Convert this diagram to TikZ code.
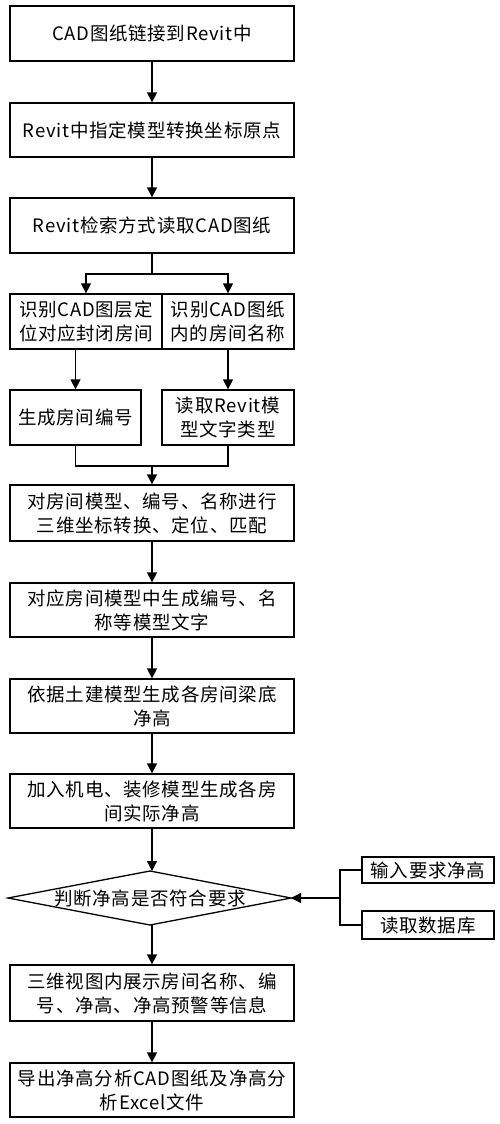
\documentclass[tikz,border=0pt]{standalone}
\usepackage{fontspec}
\setmainfont[LetterSpace=4]{Noto Sans CJK SC}
\usetikzlibrary{arrows.meta}
\begin{document}
\begin{tikzpicture}[x=1pt,y=-1pt,
  font=\fontsize{18.5}{24}\selectfont,
  box/.style={draw,line width=1.3pt,inner sep=0pt,align=center},
  conn/.style={line width=1.3pt},
  arr/.style={conn,-{Triangle[length=10pt,width=10pt]}}]
\fill[white] (0,0) rectangle (500,1124);
\useasboundingbox (0,0) rectangle (500,1124);
\node[box,minimum width=284pt,minimum height=55pt] (b1) at (152,33.5) {CAD图纸链接到Revit中};
\node[box,minimum width=284pt,minimum height=54pt] (b2) at (152,130) {Revit中指定模型转换坐标原点};
\node[box,minimum width=284pt,minimum height=55pt] (b3) at (152,225.5) {Revit检索方式读取CAD图纸};
\node[box,minimum width=152pt,minimum height=55pt] (b4l) at (86,321.5) {识别CAD图层定\\位对应封闭房间};
\node[box,minimum width=132pt,minimum height=55pt] (b4r) at (228,321.5) {识别CAD图纸\\内的房间名称};
\node[box,minimum width=131pt,minimum height=55pt] (b5l) at (75.5,417.5) {生成房间编号};
\node[box,minimum width=132pt,minimum height=55pt] (b5r) at (228,417.5) {读取Revit模\\型文字类型};
\node[box,minimum width=284pt,minimum height=56pt] (b6) at (152,513) {对房间模型、编号、名称进行\\三维坐标转换、定位、匹配};
\node[box,minimum width=284pt,minimum height=54pt] (b7) at (152,610) {对应房间模型中生成编号、名\\称等模型文字};
\node[box,minimum width=284pt,minimum height=54pt] (b8) at (152,706) {依据土建模型生成各房间梁底\\净高};
\node[box,minimum width=284pt,minimum height=54pt] (b9) at (152,801) {加入机电、装修模型生成各房\\间实际净高};
\coordinate (dT) at (150,871);
\coordinate (dB) at (150,925);
\coordinate (dL) at (8,898);
\coordinate (dR) at (291,898);
\draw[line width=1.3pt] (dT) -- (dR) -- (dB) -- (dL) -- cycle;
\node (dtext) at (150,898) {判断净高是否符合要求};
\node[box,minimum width=132pt,minimum height=26pt] (in1) at (428,870) {输入要求净高};
\node[box,minimum width=132pt,minimum height=28pt] (in2) at (428,925) {读取数据库};
\coordinate (j) at (340,898);
\node[box,minimum width=284pt,minimum height=56pt] (b10) at (152,993) {三维视图内展示房间名称、编\\号、净高、净高预警等信息};
\node[box,minimum width=284pt,minimum height=54pt] (b11) at (152,1090) {导出净高分析CAD图纸及净高分\\析Excel文件};
% connectors
\draw[arr] (b1) -- (b2);
\draw[arr] (b2) -- (b3);
\coordinate (s) at (152,274);
\draw[conn] (b3.south) -- (s);
\draw[arr] (s) -| (b4l.north);
\draw[arr] (s) -| (b4r.north);
\draw[arr] (b4l.south -| b5l.north) -- (b5l.north);
\draw[arr] (b4r) -- (b5r);
\coordinate (m) at (152,466);
\draw[conn] (b5l.south) |- (m);
\draw[conn] (b5r.south) |- (m);
\draw[arr] (m) -- (b6.north);
\draw[arr] (b6) -- (b7);
\draw[arr] (b7) -- (b8);
\draw[arr] (b8) -- (b9);
\draw[arr] (b9.south) -- (b9.south |- dT);
\draw[conn] (in1.west) -| (j);
\draw[conn] (in2.west) -| (j);
\draw[arr] (j) -- (dR);
\draw[arr] (dB -| b10.north) -- (b10.north);
\draw[arr] (b10) -- (b11);
\end{tikzpicture}
\end{document}
